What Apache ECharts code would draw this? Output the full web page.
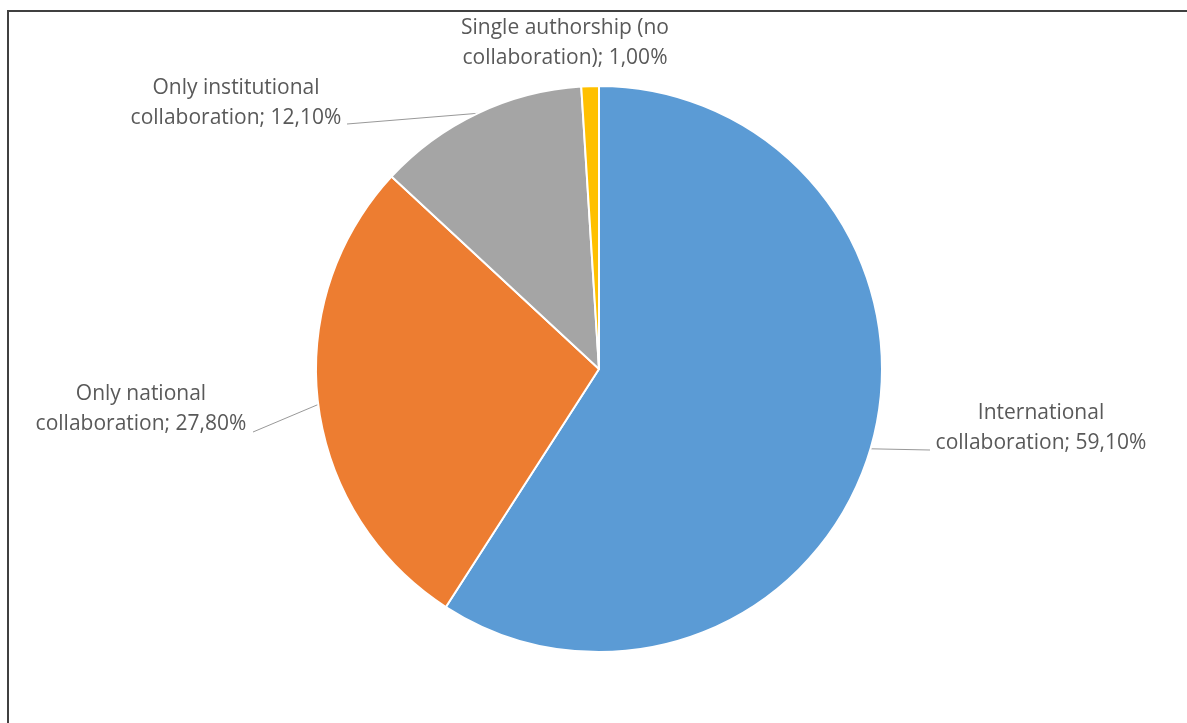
<!DOCTYPE html>
<html>
<head>
<meta charset="utf-8">
<script src="https://cdn.jsdelivr.net/npm/echarts@6/dist/echarts.min.js"></script>
<style>
  html, body { margin: 0; padding: 0; background: #fff; }
  #chart { width: 1187px; height: 723px; }
</style>
</head>
<body>
<div id="chart"></div>
<script>
// 数据
var categories = [
  'International\ncollaboration',
  'Only national\ncollaboration',
  'Only institutional\ncollaboration',
  'Single authorship (no\ncollaboration)'
]
var shares = [59.1, 27.8, 12.1, 1.0]
var colors = ['#5b9bd5', '#ed7d31', '#a5a5a5', '#ffc000']

// 标签位置 (像素) 和引导线终点
var labelPos = [[1041, 428], [141, 409], [236, 103], [565, 43]]
var lineEnd = [[930, 450], [253, 432], [347, 124], null]

var myChart = echarts.init(document.getElementById('chart'))

var option = {
  backgroundColor: '#fff',
  animation: false,
  graphic: [
    { type: 'line', shape: { x1: 8, y1: 11, x2: 1187, y2: 11 }, style: { stroke: '#404040', lineWidth: 2 } },
    { type: 'line', shape: { x1: 8, y1: 10, x2: 8, y2: 723 }, style: { stroke: '#404040', lineWidth: 2 } }
  ],
  series: [
    {
      type: 'pie',
      center: [599, 369],
      radius: 283,
      startAngle: 90,
      clockwise: true,
      itemStyle: {
        borderColor: '#fff',
        borderWidth: 2
      },
      label: {
        show: true,
        position: 'outside',
        color: '#595959',
        fontFamily: 'Open Sans',
        fontSize: 21,
        lineHeight: 30,
        align: 'center',
        formatter: function (p) {
          return p.name + '; ' + p.value.toFixed(2).replace('.', ',') + '%'
        }
      },
      labelLine: {
        show: true,
        lineStyle: { color: '#999999', width: 1 }
      },
      labelLayout: function (params) {
        var i = params.dataIndex
        var res = {
          x: labelPos[i][0],
          y: labelPos[i][1],
          align: 'center',
          verticalAlign: 'middle'
        }
        if (lineEnd[i] && params.labelLinePoints) {
          res.labelLinePoints = [params.labelLinePoints[0], lineEnd[i], lineEnd[i]]
        }
        return res
      },
      data: categories.map(function (name, i) {
        return {
          name: name,
          value: shares[i],
          itemStyle: { color: colors[i] },
          labelLine: { show: lineEnd[i] !== null }
        }
      })
    }
  ]
}

myChart.setOption(option)
</script>
</body>
</html>
